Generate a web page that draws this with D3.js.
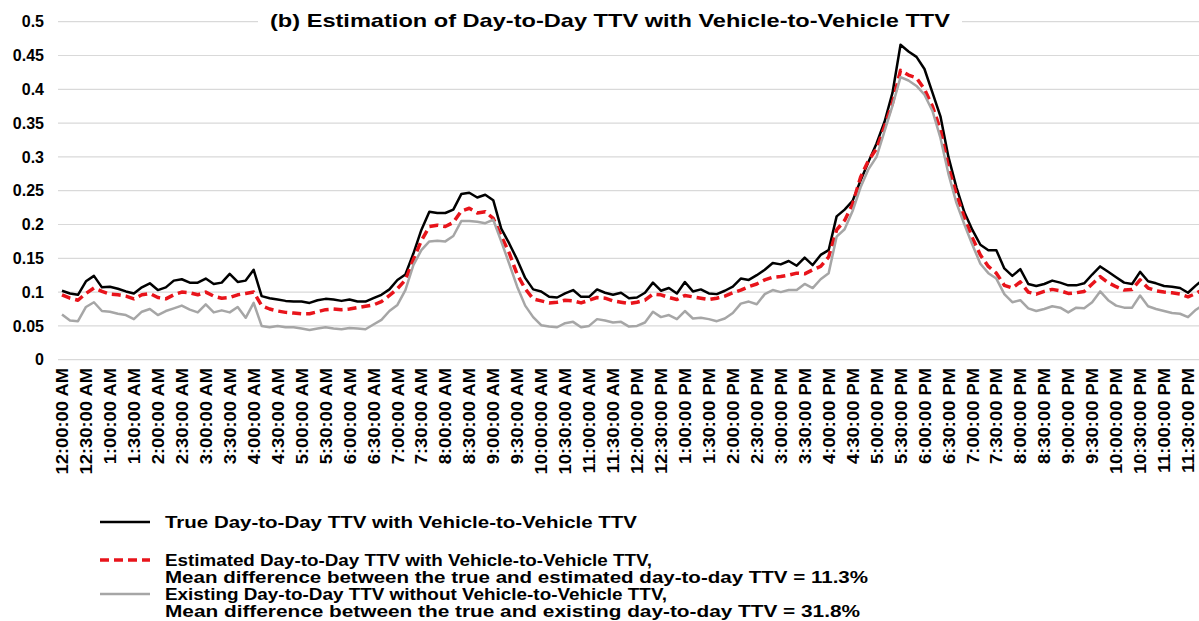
<!DOCTYPE html>
<html>
<head>
<meta charset="utf-8">
<script src="https://cdn.jsdelivr.net/npm/d3@7"></script>
<style>
  body { margin: 0; background: #fff; }
  text { font-family: "Liberation Sans", Arial, sans-serif; font-weight: bold; fill: #000; }
</style>
</head>
<body>
<div id="chart"></div>
<script>
// minutes after midnight, one point every 10 minutes
var minutes = d3.range(0, 1440, 10)

var trueTTV = [
  0.102, 0.098, 0.096, 0.116, 0.124, 0.107, 0.108, 0.105, 0.101, 0.098, 0.107, 0.113,
  0.103, 0.107, 0.117, 0.119, 0.114, 0.114, 0.120, 0.112, 0.114, 0.127, 0.115, 0.117,
  0.133, 0.094, 0.091, 0.089, 0.087, 0.086, 0.086, 0.084, 0.088, 0.090, 0.089, 0.087,
  0.089, 0.086, 0.086, 0.091, 0.096, 0.104, 0.118, 0.126, 0.157, 0.192, 0.219, 0.217,
  0.217, 0.222, 0.245, 0.247, 0.240, 0.244, 0.236, 0.194, 0.172, 0.148, 0.121, 0.104,
  0.101, 0.093, 0.092, 0.098, 0.103, 0.093, 0.093, 0.104, 0.099, 0.096, 0.099, 0.091,
  0.092, 0.099, 0.114, 0.102, 0.106, 0.098, 0.115, 0.101, 0.104, 0.098, 0.097, 0.102,
  0.108, 0.120, 0.118, 0.125, 0.133, 0.143, 0.141, 0.146, 0.139, 0.151, 0.140, 0.155,
  0.162, 0.212, 0.222, 0.235, 0.265, 0.293, 0.320, 0.352, 0.395, 0.466, 0.456, 0.448,
  0.430, 0.395, 0.360, 0.300, 0.255, 0.218, 0.192, 0.170, 0.162, 0.162, 0.135, 0.124,
  0.134, 0.112, 0.109, 0.112, 0.117, 0.114, 0.110, 0.110, 0.113, 0.126, 0.138, 0.130,
  0.122, 0.114, 0.112, 0.130, 0.116, 0.113, 0.109, 0.108, 0.106, 0.099, 0.110, 0.120
]

var estimatedTTV = [
  0.096, 0.091, 0.088, 0.098, 0.106, 0.101, 0.097, 0.096, 0.094, 0.090, 0.096, 0.098,
  0.092, 0.090, 0.096, 0.100, 0.099, 0.096, 0.100, 0.094, 0.091, 0.092, 0.096, 0.098,
  0.100, 0.080, 0.075, 0.072, 0.070, 0.069, 0.068, 0.068, 0.071, 0.074, 0.075, 0.074,
  0.075, 0.077, 0.079, 0.081, 0.086, 0.095, 0.105, 0.118, 0.148, 0.176, 0.197, 0.199,
  0.197, 0.203, 0.220, 0.224, 0.217, 0.219, 0.209, 0.183, 0.158, 0.126, 0.105, 0.090,
  0.087, 0.084, 0.085, 0.088, 0.087, 0.084, 0.088, 0.092, 0.091, 0.087, 0.085, 0.083,
  0.085, 0.088, 0.097, 0.096, 0.092, 0.089, 0.095, 0.093, 0.091, 0.089, 0.091, 0.094,
  0.099, 0.103, 0.108, 0.112, 0.118, 0.122, 0.123, 0.125, 0.128, 0.127, 0.133, 0.138,
  0.152, 0.192, 0.206, 0.230, 0.270, 0.295, 0.312, 0.345, 0.380, 0.428, 0.421, 0.417,
  0.400, 0.375, 0.340, 0.285, 0.245, 0.210, 0.180, 0.155, 0.138, 0.128, 0.110, 0.106,
  0.115, 0.100, 0.097, 0.101, 0.104, 0.102, 0.098, 0.099, 0.101, 0.112, 0.123, 0.114,
  0.108, 0.103, 0.104, 0.118, 0.106, 0.102, 0.100, 0.099, 0.097, 0.093, 0.098, 0.105
]

var existingTTV = [
  0.067, 0.058, 0.057, 0.078, 0.085, 0.072, 0.071, 0.068, 0.066, 0.060, 0.071, 0.075,
  0.066, 0.072, 0.076, 0.080, 0.074, 0.070, 0.082, 0.070, 0.073, 0.070, 0.078, 0.062,
  0.084, 0.050, 0.048, 0.050, 0.048, 0.048, 0.046, 0.044, 0.046, 0.048, 0.046, 0.045,
  0.047, 0.046, 0.045, 0.052, 0.059, 0.072, 0.081, 0.103, 0.140, 0.162, 0.175, 0.176,
  0.175, 0.183, 0.205, 0.205, 0.204, 0.202, 0.207, 0.175, 0.142, 0.108, 0.080, 0.063,
  0.051, 0.049, 0.048, 0.054, 0.056, 0.048, 0.050, 0.060, 0.058, 0.055, 0.056, 0.049,
  0.050, 0.055, 0.071, 0.063, 0.066, 0.060, 0.072, 0.061, 0.062, 0.060, 0.057, 0.061,
  0.069, 0.083, 0.086, 0.082, 0.097, 0.103, 0.100, 0.103, 0.103, 0.112, 0.106, 0.119,
  0.128, 0.182, 0.193, 0.220, 0.255, 0.282, 0.300, 0.338, 0.376, 0.418, 0.413, 0.405,
  0.392, 0.368, 0.328, 0.275, 0.232, 0.200, 0.170, 0.142, 0.128, 0.120, 0.097, 0.085,
  0.088, 0.076, 0.072, 0.075, 0.079, 0.077, 0.070, 0.077, 0.076, 0.085, 0.101, 0.088,
  0.080, 0.077, 0.077, 0.095, 0.079, 0.075, 0.072, 0.069, 0.068, 0.063, 0.074, 0.082
]

// tick labels every 30 minutes
var tickMinutes = d3.range(0, 1440, 30)
var tickLabels = tickMinutes.map(function(m) {
  var h = Math.floor(m / 60), mm = m % 60
  var h12 = h % 12 == 0 ? 12 : h % 12
  return h12 + ":" + (mm < 10 ? "0" : "") + mm + ":00 " + (h < 12 ? "AM" : "PM")
})
var yTicks = [0, 0.05, 0.1, 0.15, 0.2, 0.25, 0.3, 0.35, 0.4, 0.45, 0.5]
var titleText = "(b) Estimation of Day-to-Day TTV with Vehicle-to-Vehicle TTV"

var width = 1199, height = 621

var svg = d3.select("#chart").append("svg")
  .attr("width", width)
  .attr("height", height)

var x = d3.scaleLinear().domain([0, 1410]).range([62, 1188])
var y = d3.scaleLinear().domain([0, 0.5]).range([359.7, 21.7])

// gridlines
svg.append("g")
  .selectAll("line")
  .data(yTicks)
  .enter()
  .append("line")
    .attr("x1", 58)
    .attr("x2", width)
    .attr("y1", function(d) { return y(d) })
    .attr("y2", function(d) { return y(d) })
    .attr("stroke", "#d9d9d9")
    .attr("stroke-width", 1.2)

// y labels
svg.append("g")
  .selectAll("text")
  .data(yTicks)
  .enter()
  .append("text")
    .attr("x", 44)
    .attr("y", function(d) { return y(d) })
    .attr("dy", "0.35em")
    .attr("text-anchor", "end")
    .style("font-size", "16px")
    .text(function(d) { return d })

// x labels, rotated
svg.append("g")
  .selectAll("text")
  .data(tickMinutes)
  .enter()
  .append("text")
    .attr("transform", function(d) { return "translate(" + x(d) + ",368) rotate(-90) scale(1.08,1)" })
    .attr("dy", "0.36em")
    .attr("text-anchor", "end")
    .style("font-size", "17px")
    .text(function(d, i) { return tickLabels[i] })

// title with white box behind it
var title = svg.append("g")
title.append("rect")
  .attr("x", 258).attr("y", 8).attr("width", 704).attr("height", 26)
  .attr("fill", "#fff")
title.append("text")
  .attr("x", 610)
  .attr("y", 27)
  .attr("text-anchor", "middle")
  .attr("textLength", 680)
  .attr("lengthAdjust", "spacingAndGlyphs")
  .style("font-size", "19px")
  .text(titleText)

var series = [
  {name: "true", values: trueTTV, color: "#000000", width: 2.5, dash: null},
  {name: "estimated", values: estimatedTTV, color: "#e8141b", width: 3.5, dash: "9,5"},
  {name: "existing", values: existingTTV, color: "#a6a6a6", width: 2.5, dash: null}
]

var line = d3.line()
  .x(function(d, i) { return x(minutes[i]) })
  .y(function(d) { return y(d) })

svg.append("g")
  .selectAll("path")
  .data(series)
  .enter()
  .append("path")
    .attr("d", function(d) { return line(d.values) })
    .attr("fill", "none")
    .attr("stroke", function(d) { return d.color })
    .attr("stroke-width", function(d) { return d.width })
    .attr("stroke-dasharray", function(d) { return d.dash })
    .attr("stroke-linejoin", "round")

// legend
var legendRows = [
  {s: 0, y: 522, lines: ["True Day-to-Day TTV with Vehicle-to-Vehicle TTV"]},
  {s: 1, y: 560, lines: ["Estimated Day-to-Day TTV with Vehicle-to-Vehicle TTV,",
                         "Mean difference between the true and estimated day-to-day TTV  = 11.3%"]},
  {s: 2, y: 594, lines: ["Existing Day-to-Day TTV without Vehicle-to-Vehicle TTV,",
                         "Mean difference between the true and existing day-to-day TTV  = 31.8%"]}
]
var legendLen = {
  "True Day-to-Day TTV with Vehicle-to-Vehicle TTV": 472,
  "Estimated Day-to-Day TTV with Vehicle-to-Vehicle TTV,": 487,
  "Mean difference between the true and estimated day-to-day TTV  = 11.3%": 703,
  "Existing Day-to-Day TTV without Vehicle-to-Vehicle TTV,": 502,
  "Mean difference between the true and existing day-to-day TTV  = 31.8%": 695
}

var legend = svg.append("g")
legendRows.forEach(function(r) {
  var s = series[r.s]
  legend.append("line")
    .attr("x1", 100).attr("x2", 150)
    .attr("y1", r.y).attr("y2", r.y)
    .attr("stroke", s.color)
    .attr("stroke-width", s.width)
    .attr("stroke-dasharray", s.dash)
  r.lines.forEach(function(t, j) {
    legend.append("text")
      .attr("x", 165)
      .attr("y", r.y + j * 17.5)
      .attr("dy", "0.35em")
      .attr("textLength", legendLen[t])
      .attr("lengthAdjust", "spacingAndGlyphs")
      .style("font-size", "16px")
      .text(t)
  })
})
</script>
</body>
</html>
